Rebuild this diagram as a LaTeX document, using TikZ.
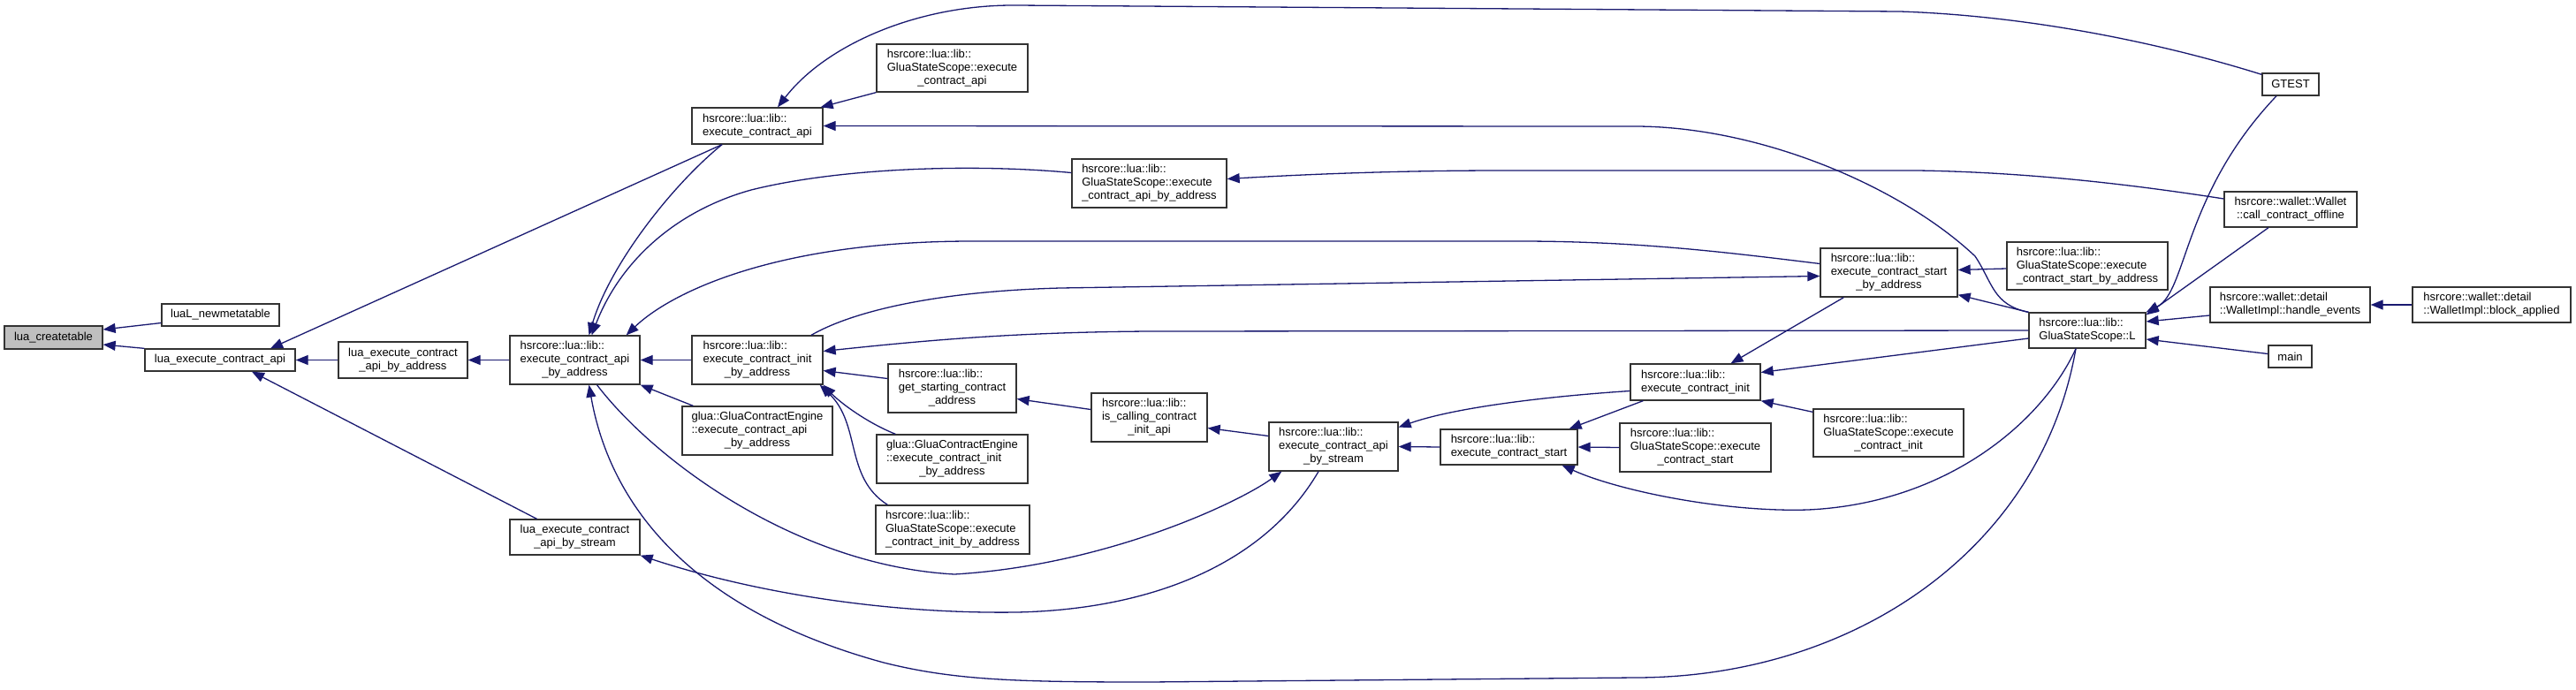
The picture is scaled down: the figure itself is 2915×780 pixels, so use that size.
\documentclass[tikz,border=0pt]{standalone}
\usepackage{fontspec}
\setmainfont{Liberation Sans}
\usepackage{xcolor}
\usepackage{tikz}
\usetikzlibrary{arrows.meta, positioning, calc}

\definecolor{edgeblue}{HTML}{191970}
\definecolor{rootgray}{HTML}{BFBFBF}

% label: all lines left, last line centred
\newcommand{\fnlabel}[2]{\begin{tabular}{@{}l@{}}#1\\\multicolumn{1}{@{}c@{}}{#2}\end{tabular}}

\begin{document}
\begin{tikzpicture}[
    x=1pt, y=-1pt,
    func/.style={draw=black!80, line width=1.3pt, fill=white, inner sep=0pt, font=\fontsize{13}{15}\selectfont},
    focus/.style={func, fill=rootgray},
    calls/.style={<-, >={Triangle[length=14pt,width=11pt]}, draw=edgeblue, line width=1.3pt}
]
\fill[white] (0,0) rectangle (2915,780);

% Left part
\node[focus, minimum width=111pt, minimum height=26pt] (ctab) at (60.5,382) {lua\_createtable};
\node[func, minimum width=133pt, minimum height=25pt] (newmeta) at (249.5,356.5) {luaL\_newmetatable};
\node[func, minimum width=170pt, minimum height=25pt] (luaapi) at (249,407.5) {lua\_execute\_contract\_api};
\node[func, minimum width=146pt, minimum height=41pt] (luaaddr) at (456,407.5) {\fnlabel{lua\_execute\_contract}{\_api\_by\_address}};
\node[func, minimum width=147pt, minimum height=55pt] (apiaddr) at (650.5,407.5) {\fnlabel{hsrcore::lua::lib::\\execute\_contract\_api}{\_by\_address}};
\node[func, minimum width=147pt, minimum height=40pt] (luastream) at (650.5,608) {\fnlabel{lua\_execute\_contract}{\_api\_by\_stream}};

% Middle part
\node[func, minimum width=148pt, minimum height=41pt] (execapi) at (857,142.5) {\fnlabel{hsrcore::lua::lib::}{execute\_contract\_api}};
\node[func, minimum width=171pt, minimum height=54pt] (gssapi) at (1077.5,77) {\fnlabel{hsrcore::lua::lib::\\GluaStateScope::execute}{\_contract\_api}};
\node[func, minimum width=148pt, minimum height=55pt] (initaddr) at (857,407.5) {\fnlabel{hsrcore::lua::lib::\\execute\_contract\_init}{\_by\_address}};
\node[func, minimum width=170pt, minimum height=55pt] (gceapi) at (857,487.5) {\fnlabel{glua::GluaContractEngine\\::execute\_contract\_api}{\_by\_address}};
\node[func, minimum width=145pt, minimum height=55pt] (getstart) at (1077.5,439.5) {\fnlabel{hsrcore::lua::lib::\\get\_starting\_contract}{\_address}};
\node[func, minimum width=171pt, minimum height=55pt] (gceinit) at (1077.5,519.5) {\fnlabel{glua::GluaContractEngine\\::execute\_contract\_init}{\_by\_address}};
\node[func, minimum width=174pt, minimum height=55pt] (gssinitaddr) at (1078,599.5) {\fnlabel{hsrcore::lua::lib::\\GluaStateScope::execute}{\_contract\_init\_by\_address}};
\node[func, minimum width=175pt, minimum height=55pt] (gssapiaddr) at (1300.5,207.5) {\fnlabel{hsrcore::lua::lib::\\GluaStateScope::execute}{\_contract\_api\_by\_address}};
\node[func, minimum width=131pt, minimum height=55pt] (iscalling) at (1300.5,472.5) {\fnlabel{hsrcore::lua::lib::\\is\_calling\_contract}{\_init\_api}};
\node[func, minimum width=146pt, minimum height=55pt] (stream) at (1509,505.5) {\fnlabel{hsrcore::lua::lib::\\execute\_contract\_api}{\_by\_stream}};
\node[func, minimum width=155pt, minimum height=40pt] (start) at (1707.5,506) {\fnlabel{hsrcore::lua::lib::}{execute\_contract\_start}};
\node[func, minimum width=171pt, minimum height=55pt] (gssstart) at (1918.5,506.5) {\fnlabel{hsrcore::lua::lib::\\GluaStateScope::execute}{\_contract\_start}};
\node[func, minimum width=147pt, minimum height=41pt] (init) at (1918.5,432.5) {\fnlabel{hsrcore::lua::lib::}{execute\_contract\_init}};
\node[func, minimum width=170pt, minimum height=54pt] (gssinit) at (2137,490) {\fnlabel{hsrcore::lua::lib::\\GluaStateScope::execute}{\_contract\_init}};

% Right part
\node[func, minimum width=155pt, minimum height=55pt] (startaddr) at (2137.5,308.5) {\fnlabel{hsrcore::lua::lib::\\execute\_contract\_start}{\_by\_address}};
\node[func, minimum width=182pt, minimum height=54pt] (gssstartaddr) at (2362,301) {\fnlabel{hsrcore::lua::lib::\\GluaStateScope::execute}{\_contract\_start\_by\_address}};
\node[func, minimum width=132pt, minimum height=40pt] (scopeL) at (2362,374) {\fnlabel{hsrcore::lua::lib::}{GluaStateScope::L}};
\node[func, minimum width=64pt, minimum height=25pt] (gtest) at (2592,95.5) {GTEST};
\node[func, minimum width=150pt, minimum height=40pt] (offline) at (2592,237) {\fnlabel{hsrcore::wallet::Wallet}{::call\_contract\_offline}};
\node[func, minimum width=181pt, minimum height=40pt] (handle) at (2591.5,345) {\fnlabel{hsrcore::wallet::detail}{::WalletImpl::handle\_events}};
\node[func, minimum width=179pt, minimum height=40pt] (block) at (2819.5,345) {\fnlabel{hsrcore::wallet::detail}{::WalletImpl::block\_applied}};
\node[func, minimum width=49pt, minimum height=25pt] (mainfn) at (2591.5,403.5) {main};

% callers of lua_createtable and lua_execute_contract_api
\draw[calls] ([yshift=9pt]ctab.east) -- ([yshift=-9pt]newmeta.west);
\draw[calls] ([yshift=-8pt]ctab.east) -- (luaapi.north west);
\draw[calls] (luaapi.east) -- (luaaddr.west);
\draw[calls] ([xshift=57pt]luaapi.north) -- ([xshift=-40pt]execapi.south);
\draw[calls] ([xshift=36pt]luaapi.south) -- ([xshift=-43pt]luastream.north);
\draw[calls] (luaaddr.east) -- (apiaddr.west);

% callers of execute_contract_api
\draw[calls] ([xshift=-3pt]execapi.north east) -- (gssapi.south west);
\draw[calls] ([xshift=23pt]execapi.north) .. controls (935,50) and (1040,5) .. (1150,6) -- (2150,13) .. controls (2300,18) and (2450,50) .. ([yshift=-2pt]gtest.north west);
\draw[calls] (execapi.east) -- (1850,143) .. controls (1990,143) and (2150,210) .. (2235,290) .. controls (2255,320) and (2255,345) .. (scopeL.north west);

% callers of execute_contract_api_by_address
\draw[calls] ([xshift=16pt]apiaddr.north) .. controls (690,300) and (760,210) .. ([xshift=-40pt]execapi.south);
\draw[calls] ([xshift=19pt]apiaddr.north) .. controls (700,300) and (760,240) .. (850,215) .. controls (950,190) and (1100,185) .. ([yshift=12pt]gssapiaddr.west);
\draw[calls] ([xshift=-16pt]apiaddr.north east) .. controls (760,330) and (880,273) .. (1100,273) -- (1720,273) .. controls (1850,273) and (1950,285) .. ([yshift=10pt]startaddr.west);
\draw[calls] (apiaddr.east) -- (initaddr.west);
\draw[calls] (apiaddr.south east) -- ([xshift=13pt]gceapi.north west);
\draw[calls] ([xshift=16pt]apiaddr.south) .. controls (690,570) and (780,690) .. (1000,750) .. controls (1080,770) and (1150,772) .. (1300,772) -- (1850,767) .. controls (2100,767) and (2310,620) .. ([xshift=-13pt]scopeL.south);

% by_stream
\draw[calls] ([xshift=15pt]stream.south west) .. controls (1400,570) and (1250,640) .. (1080,650) .. controls (900,640) and (740,520) .. ([xshift=25pt]apiaddr.south);
\draw[calls] (luastream.south east) .. controls (850,670) and (1000,695) .. (1150,693) .. controls (1300,690) and (1430,640) .. ([xshift=-17pt]stream.south);

% callers of execute_contract_init_by_address
\draw[calls] ([yshift=10pt]initaddr.east) .. controls (1050,385) and (1150,376) .. (1300,375) -- (scopeL.west);
\draw[calls] ([yshift=-12pt]initaddr.east) -- ([yshift=11pt]getstart.west);
\draw[calls] (initaddr.south east) .. controls (950,455) and (980,478) .. ([xshift=22pt]gceinit.north west);
\draw[calls] ([xshift=-4pt]initaddr.south east) .. controls (975,480) and (955,540) .. ([xshift=14pt]gssinitaddr.north west);
\draw[calls] ([yshift=-4pt]startaddr.west) -- (1200,326) .. controls (1050,330) and (960,355) .. ([xshift=61pt]initaddr.north);

% is_calling, start, init
\draw[calls] ([yshift=-12pt]getstart.east) -- ([yshift=9pt]iscalling.west);
\draw[calls] ([yshift=-12pt]iscalling.east) -- ([yshift=12pt]stream.west);
\draw[calls] (stream.east) -- (start.west);
\draw[calls] ([yshift=22pt]stream.east) .. controls (1650,460) and (1760,448) .. ([yshift=-10pt]init.west);
\draw[calls] ([xshift=-10pt]start.north east) -- ([xshift=15pt]init.south west);
\draw[calls] (start.east) -- (gssstart.west);
\draw[calls] ([xshift=-18pt]start.south east) .. controls (1830,555) and (1950,580) .. (2046,577) .. controls (2200,570) and (2310,480) .. ([xshift=-13pt]scopeL.south);
\draw[calls] ([xshift=40pt]init.north) -- ([xshift=27pt]startaddr.south west);
\draw[calls] ([yshift=11pt]init.east) -- ([yshift=-9pt]scopeL.west);
\draw[calls] (init.south east) -- ([yshift=-4pt]gssinit.north west);

% start_by_address and GluaStateScope::L
\draw[calls] ([yshift=3pt]startaddr.east) -- ([yshift=-3pt]gssstartaddr.west);
\draw[calls] ([yshift=3pt]startaddr.south east) -- (scopeL.north west);
\draw[calls] (scopeL.north east) .. controls (2475,330) and (2470,220) .. ([xshift=-16pt]gtest.south);
\draw[calls] ([yshift=-3pt]scopeL.north east) -- ([xshift=-25pt]offline.south);
\draw[calls] ([yshift=10pt]scopeL.east) -- ([yshift=-12pt]handle.west);
\draw[calls] ([yshift=-10pt]scopeL.east) -- ([yshift=3pt]mainfn.west);
\draw[calls] (handle.east) -- (block.west);
\draw[calls] ([yshift=5pt]gssapiaddr.east) .. controls (1500,196) and (1600,193) .. (1700,193) -- (2170,193) .. controls (2300,195) and (2420,210) .. ([yshift=12pt]offline.west);

\end{tikzpicture}
\end{document}
